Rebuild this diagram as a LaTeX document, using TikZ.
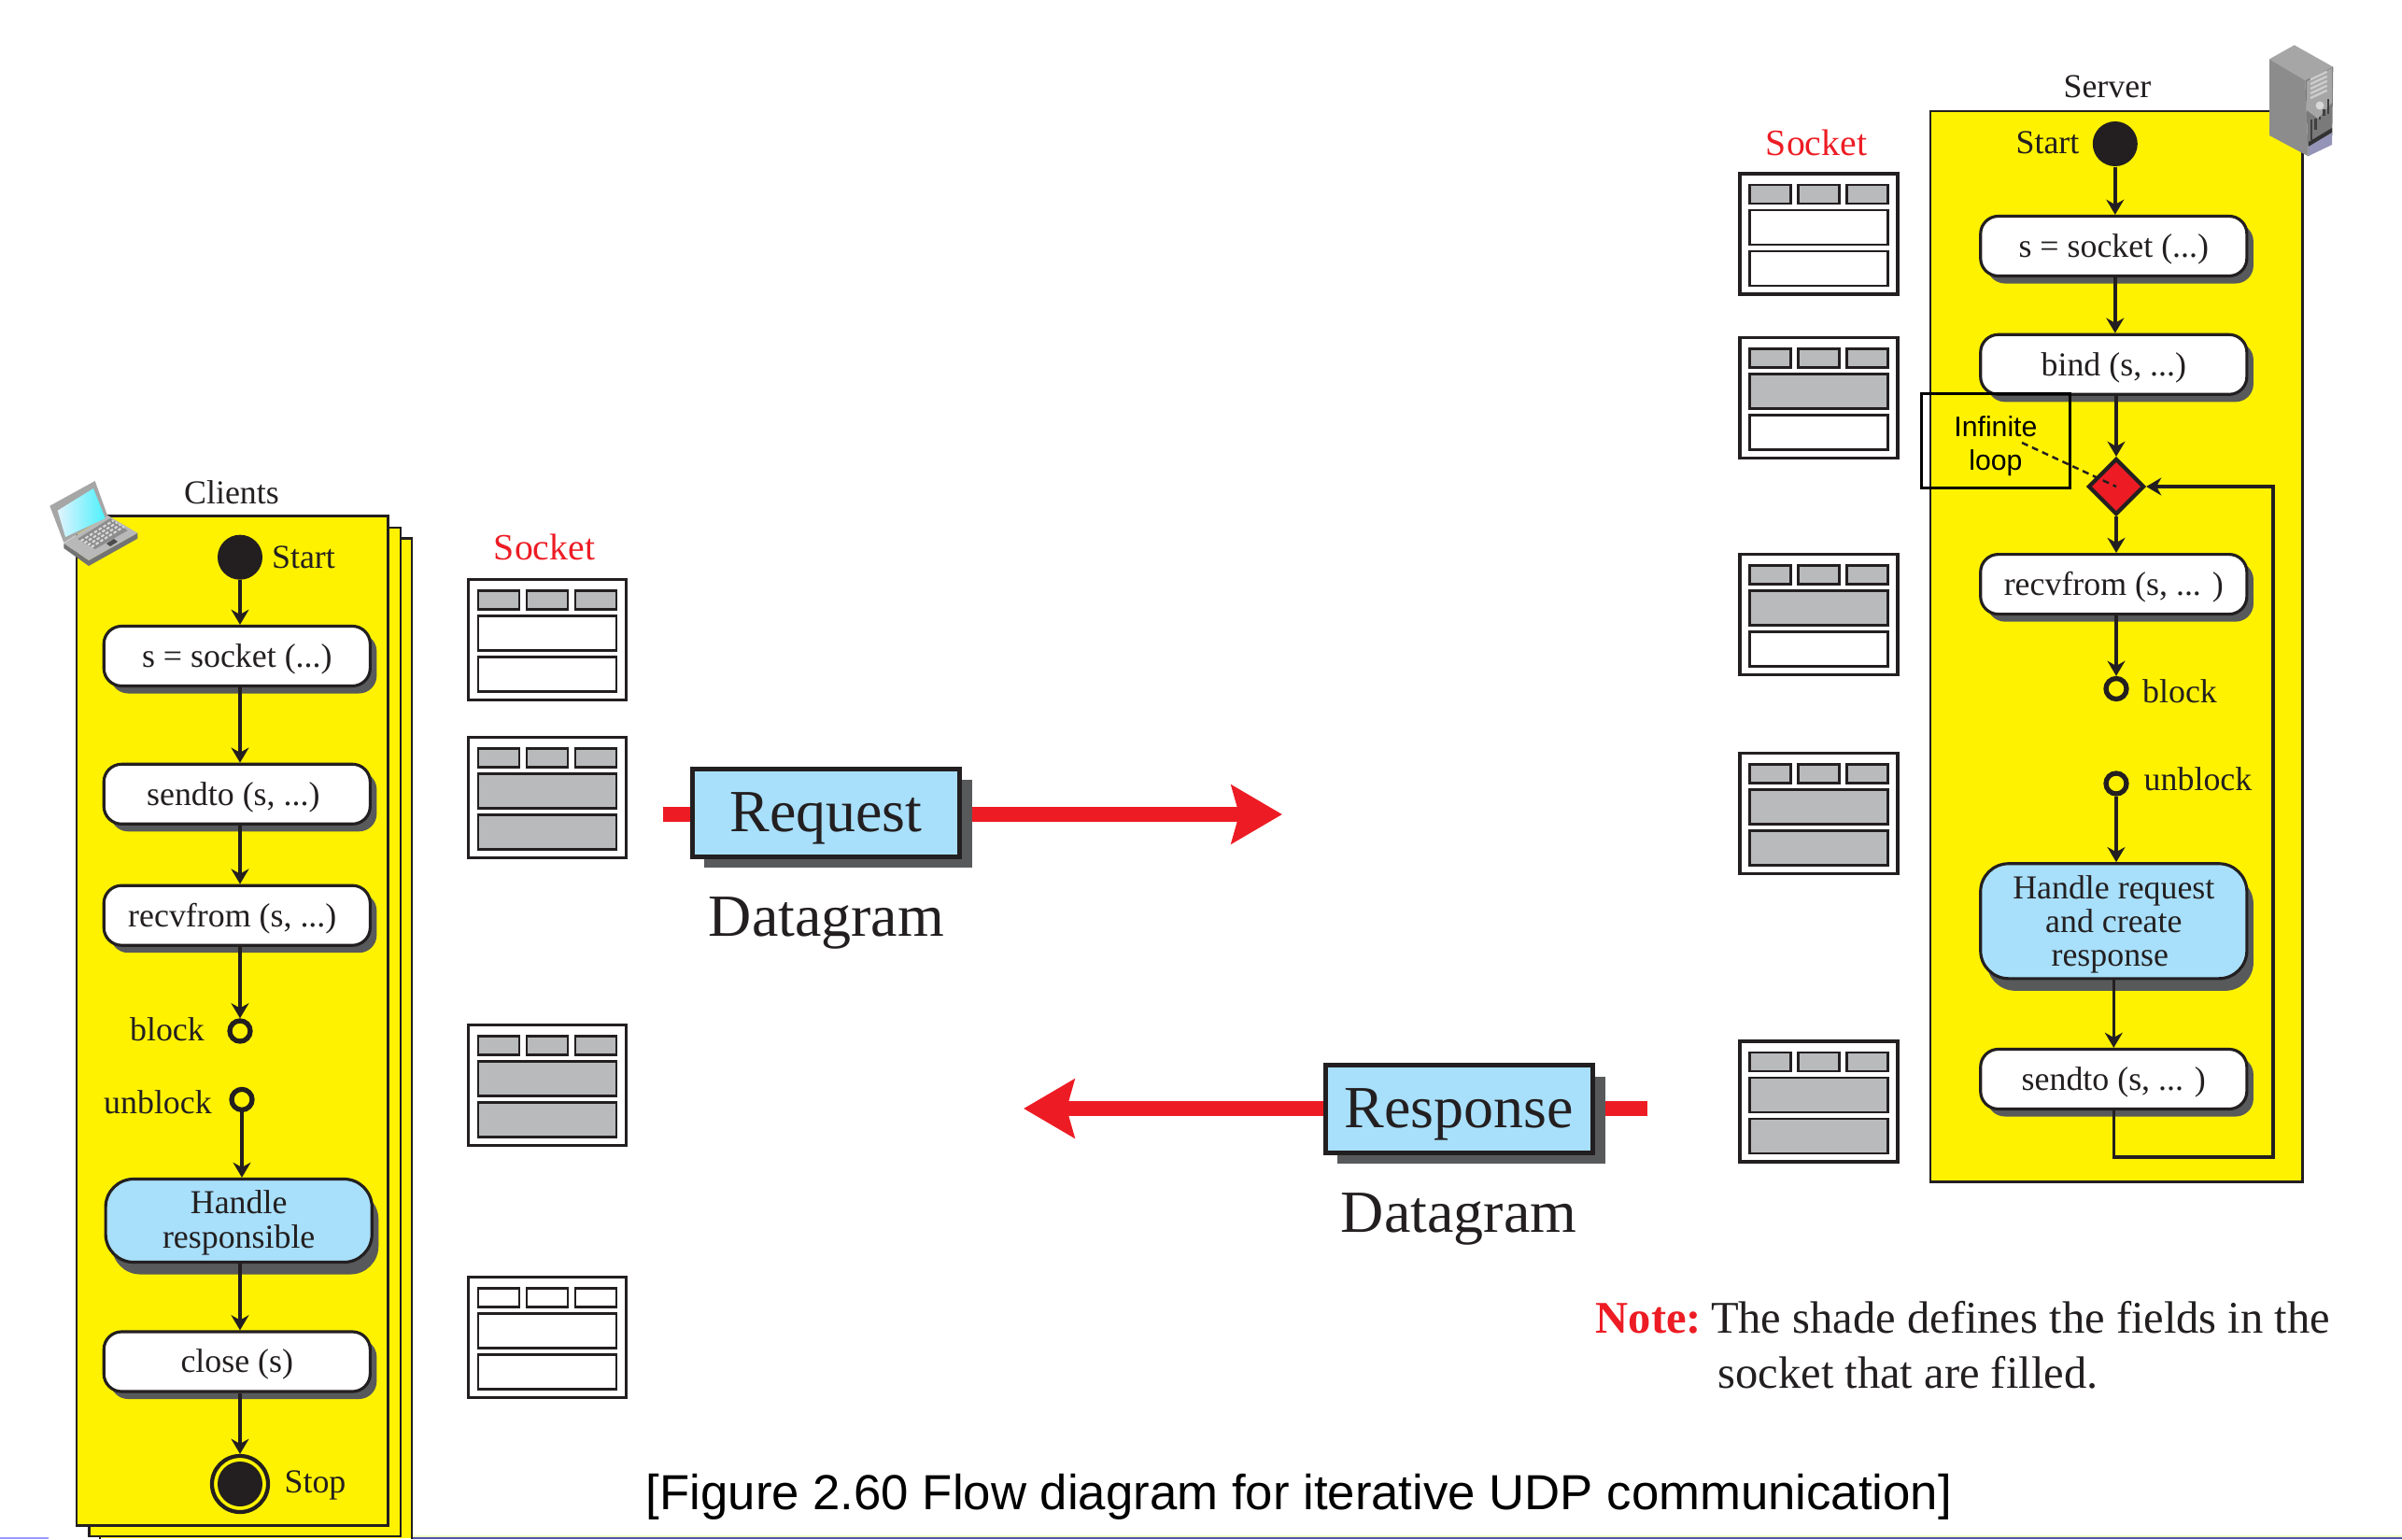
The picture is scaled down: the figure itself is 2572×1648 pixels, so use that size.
\documentclass[tikz,border=0pt]{standalone}
\usepackage{fontspec}
\setmainfont{Liberation Serif}
\newfontfamily\capfont{Liberation Sans}
\usetikzlibrary{positioning,calc}
\usetikzlibrary{arrows.meta,shapes.geometric,shadows,backgrounds}
\definecolor{Ink}{RGB}{35,31,32}
\definecolor{FlowYellow}{RGB}{255,242,0}
\definecolor{NoteRed}{RGB}{237,28,36}
\definecolor{SkyFill}{RGB}{168,223,250}
\definecolor{FieldGray}{RGB}{185,186,188}
\definecolor{ShadeGray}{RGB}{88,89,91}
\newcommand{\boxfont}{\fontsize{10.2}{10.3}\selectfont}
\newcommand{\bigfont}{\fontsize{18.2}{20}\selectfont}
\tikzset{
  every node/.style={text=Ink},
  lane/.style={draw=Ink,fill=FlowYellow,line width=0.8pt},
  flow/.style={draw=Ink,line width=1pt,-{Stealth[length=4.6pt,width=5.4pt,inset=1.5pt]}},
  dot/.style={circle,fill=Ink,inner sep=0pt,minimum size=0.48cm},
  ring/.style={circle,draw=Ink,fill=FlowYellow,line width=1.5pt,inner sep=0pt,minimum size=0.22cm},
  stopring/.style={circle,draw=Ink,fill=FlowYellow,line width=1.2pt,inner sep=0pt,minimum size=0.6cm},
  tag/.style={font=\boxfont,inner sep=0pt},
  flowbox/.style={draw=Ink,line width=0.9pt,inner sep=0pt,minimum width=2.85cm,font=\boxfont},
  call/.style={flowbox,fill=white,rounded corners=0.19cm,minimum height=0.64cm,text height=8pt,text depth=1.2pt,
    drop shadow={opacity=1,fill=ShadeGray,shadow xshift=0.07cm,shadow yshift=-0.08cm}},
  work/.style={flowbox,fill=SkyFill,rounded corners=0.3cm,align=center,
    drop shadow={opacity=1,fill=ShadeGray,shadow xshift=0.07cm,shadow yshift=-0.13cm}},
  packet/.style={draw=Ink,fill=SkyFill,line width=1.4pt,inner sep=0pt,font=\bigfont,
    minimum width=2.86cm,minimum height=0.937cm,text height=13pt,text depth=1.8pt,
    drop shadow={opacity=1,fill=ShadeGray,shadow xshift=0.13cm,shadow yshift=-0.12cm}},
  sockframe/.style={draw=Ink,fill=white,line width=1pt,inner sep=0pt,minimum width=1.685cm,minimum height=1.285cm},
  cellsmall/.style={draw=Ink,line width=0.8pt,inner sep=0pt,minimum width=0.44cm,minimum height=0.2cm},
  cellbig/.style={draw=Ink,line width=0.8pt,inner sep=0pt,minimum width=1.48cm,minimum height=0.37cm},
  redline/.style={draw=NoteRed,line width=4.8pt},
  redflow/.style={redline,-{Stealth[length=15.4pt,width=17.6pt,inset=2.3pt]}},
}
\begin{document}
\begin{tikzpicture}[x=0.01cm,y=-0.01cm]
\useasboundingbox (0,0) rectangle (2572,1648);
% page edge
\draw[line width=0.8pt,draw=green!30!yellow!25!white] (441,1645) -- (2572,1645);
\draw[line width=0.5pt,draw=blue!35!gray] (441,1647.3) -- (2572,1647.3);
\draw[line width=0.5pt,draw=blue!40!white] (0,1647.3) -- (52,1647.3);
% client sheets
\fill[FlowYellow] (107,576.4) rectangle (441,1647);
\draw[lane,fill=none] (107,1648) -- (107,576.4) -- (441,576.4) -- (441,1648);
\draw[lane] (95.5,565) rectangle (429,1645);
\draw[lane] (82,552.7) rectangle (415.6,1633.7);
\node[tag] (clientslabel) at (248,527) {Clients};
% laptop
\fill[black!55] (68.3,581.7) -- (68.3,587) -- (95,606) -- (147.3,576.7) -- (147.3,570.7) -- (95,600) -- cycle;
\fill[black!28] (68.3,581.7) -- (115,551.7) -- (147.3,570.7) -- (95,600) -- cycle;
\fill[black!45] (83,577) -- (118,555) -- (136.7,568) -- (101.7,588) -- cycle;
\foreach \i in {1,...,4}
  \draw[white!85!black,line width=0.6pt,dash pattern=on 1pt off 0.6pt] (83+3.7*\i,577+2.2*\i) -- ++(35,-22);
\fill[black!70] (114,582) -- (122,577) -- (126,580) -- (118,585) -- cycle;
\fill[black!35] (53.3,541.7) -- (101.7,515) -- (115,551.7) -- (68.3,581) -- cycle;
\shade[left color=SkyFill!35!white,right color=cyan!55!SkyFill] (61.7,546.7) -- (100,523) -- (112.7,555) -- (70,575) -- cycle;
% client flow
\node[dot] (cstart) at (257,596.7) {};
\node[tag] (cstartlabel) at (325,597) {Start};
\node[call] (csocket) at (253.8,702.5) {s = socket (...)};
\node[call] (csend) at (253.8,850.3) {sendto (s, ...)\hspace{0.08cm}\null};
\node[call] (crecv) at (253.8,980.2) {recvfrom (s, ...)\hspace{0.1cm}\null};
\node[ring] (cblock) at (257,1104) {};
\node[tag] (cblocklabel) at (179,1102) {block};
\node[ring] (cunblock) at (259,1177.4) {};
\node[tag] (cunblocklabel) at (169,1180) {unblock};
\node[work,minimum height=0.89cm] (chandle) at (255.7,1307) {\rule{0pt}{8.4pt}Handle\\responsible};
\node[call] (cclose) at (253.8,1458) {close (s)};
\node[stopring] (cstop) at (257,1589) {};
\node[dot] (cstopdot) at (257,1589) {};
\node[tag] (cstoplabel) at (337.5,1590) {Stop};
\draw[flow] (cstart) -- (cstart |- csocket.north);
\draw[flow] (cstart |- csocket.south) -- (cstart |- csend.north);
\draw[flow] (cstart |- csend.south) -- (cstart |- crecv.north);
\draw[flow] (cstart |- crecv.south) -- (cblock.north);
\draw[flow] (cunblock.south) -- (cunblock |- chandle.north);
\draw[flow] (cstart |- chandle.south) -- (cstart |- cclose.north);
\draw[flow] (cstart |- cclose.south) -- (cstop.north);
% server sheet
\draw[lane] (2067,119) rectangle (2465.6,1265.6);
\node[tag] (serverlabel) at (2256.4,92.9) {Server};
% server tower
\fill[black!35] (2430,63.3) -- (2456.7,48.3) -- (2498.3,71.7) -- (2468.3,86) -- cycle;
\fill[black!45] (2430,63.3) -- (2468.3,86) -- (2471.7,167.3) -- (2430,145) -- cycle;
\fill[black!52] (2468.3,86) -- (2498.3,71.7) -- (2497.3,145) -- (2471.7,167.3) -- cycle;
\fill[black!35] (2470,87) -- (2497,73) -- (2497,110) -- (2482,127) -- (2470,118) -- cycle;
\foreach \i in {0,...,4}
  \draw[white!80!black,line width=0.7pt] (2474,85+5*\i) -- (2491.7,76.7+5*\i);
\fill[black!15] (2484,113) circle (4.5);
\foreach \i in {0,...,4}
  \draw[black!75,line width=0.6pt] (2475+4.5*\i,128-1.5*\i) -- (2475+4.5*\i,150-11*\i);
\fill[black!80] (2472,152) -- (2497,137) -- (2497,142) -- (2472,157) -- cycle;
\fill[blue!20!gray!70!white] (2472,157) -- (2497,142) -- (2497,155) -- (2472,167) -- cycle;
% server flow
\node[dot] (sstart) at (2264.8,154) {};
\node[tag] (sstartlabel) at (2192.5,152.7) {Start};
\node[call] (ssocket) at (2263.3,263.5) {s = socket (...)};
\node[call] (sbind) at (2263.3,390.3) {bind (s, ...)};
\node[diamond,draw=Ink,fill=NoteRed,line width=1.2pt,inner sep=0pt,minimum width=0.6cm,minimum height=0.6cm] (sloop) at (2266,521) {};
\node[call] (srecv) at (2263.3,625.6) {recvfrom (s, ... )};
\node[ring] (sblock) at (2266,737.5) {};
\node[tag] (sblocklabel) at (2334,740) {block};
\node[ring] (sunblock) at (2266,839) {};
\node[tag] (sunblocklabel) at (2353.5,834) {unblock};
\node[work,minimum height=1.23cm] (shandle) at (2263.3,986.3) {\rule{0pt}{9pt}Handle request\\and create\\response\hspace*{0.08cm}};
\node[call] (ssend) at (2263.3,1155.5) {sendto (s, ... )};
\coordinate (sback) at (2434,1239);
\draw[flow] (sstart) -- (sstart |- ssocket.north);
\draw[flow] (sstart |- ssocket.south) -- (sstart |- sbind.north);
\draw[flow] (sloop |- sbind.south) -- (sloop.north);
\draw[flow] (sloop.south) -- (sloop |- srecv.north);
\draw[flow] (sloop |- srecv.south) -- (sblock.north);
\draw[flow] (sunblock.south) -- (sunblock |- shandle.north);
\draw[flow] (shandle.south) -- (shandle.south |- ssend.north);
\draw[flow,line join=miter] (ssend.south) |- (sback) |- (sloop.east);
% loop note
\node[draw=black,line width=0.8pt,inner sep=0pt,minimum width=1.59cm,minimum height=1.01cm,align=center,text=black,
  font=\capfont\fontsize{8.6}{10.3}\selectfont] (infloop) at (2136.9,472.3) {\rule{0pt}{9.2pt}Infinite\\loop};
\coordinate (infanchor) at (2165,474);
\draw[line width=0.7pt,dash pattern=on 2pt off 1.4pt,draw=Ink] (infanchor) -- (sloop.center);
% sockets
\foreach \sname/\sx/\sy/\fa/\fb/\fc in {
  csa/586/685/FieldGray/white/white,
  csb/586/854/FieldGray/FieldGray/FieldGray,
  csc/586/1162/FieldGray/FieldGray/FieldGray,
  csd/586/1432/white/white/white,
  ssa/1947.5/250.5/FieldGray/white/white,
  ssb/1947.5/426/FieldGray/FieldGray/white,
  ssc/1947.5/658/FieldGray/FieldGray/white,
  ssd/1947.5/871/FieldGray/FieldGray/FieldGray,
  sse/1947.5/1179.5/FieldGray/FieldGray/FieldGray}{
  \node[sockframe] (\sname) at (\sx,\sy) {};
  \node[cellsmall,fill=\fa] (\sname-a) at ($(\sname.center)+(-52,-42.5)$) {};
  \node[cellsmall,fill=\fa] (\sname-b) at ($(\sname.center)+(0,-42.5)$) {};
  \node[cellsmall,fill=\fa] (\sname-c) at ($(\sname.center)+(52,-42.5)$) {};
  \node[cellbig,fill=\fb] (\sname-d) at ($(\sname.center)+(0,-7)$) {};
  \node[cellbig,fill=\fc] (\sname-e) at ($(\sname.center)+(0,37)$) {};
}
\node[tag,text=NoteRed,font=\fontsize{11.3}{12}\selectfont] (csocklabel) at (583,586) {Socket};
\node[tag,text=NoteRed,font=\fontsize{11.3}{12}\selectfont] (ssocklabel) at (1945,152.7) {Socket};
% datagrams
\node[packet] (reqbox) at (884.4,870.3) {Request};
\node[tag,font=\bigfont] (reqlabel) at (885,988) {Datagram};
\coordinate (reqtail) at (710,872);
\coordinate (reqhead) at (1373,872);
\node[packet] (respbox) at (1562.4,1187.5) {Response};
\node[tag,font=\bigfont] (resplabel) at (1562,1305) {Datagram};
\coordinate (resptail) at (1764,1187);
\coordinate (resphead) at (1096,1187);
\begin{scope}[on background layer]
\draw[redline] (reqtail) -- (reqtail -| reqbox.west);
\draw[redflow] (reqhead -| reqbox.east) -- (reqhead);
\draw[redline] (resptail) -- (resptail -| respbox.east);
\draw[redflow] (resphead -| respbox.west) -- (resphead);
\end{scope}
% note and caption
\node[tag,anchor=west,font=\fontsize{13.8}{15}\selectfont] (noteone) at (1708,1411) {\textcolor{NoteRed}{\textbf{Note:}}\hspace{-0.06cm} The shade defines the fields in the};
\node[tag,font=\fontsize{13.8}{15}\selectfont] (notetwo) at (2043,1470) {socket that are filled.};
\node[tag,text=black,font=\capfont\fontsize{15}{16}\selectfont] (caption) at (1391,1603) {[Figure 2.60 Flow diagram for iterative UDP communication]};
\end{tikzpicture}
\end{document}
